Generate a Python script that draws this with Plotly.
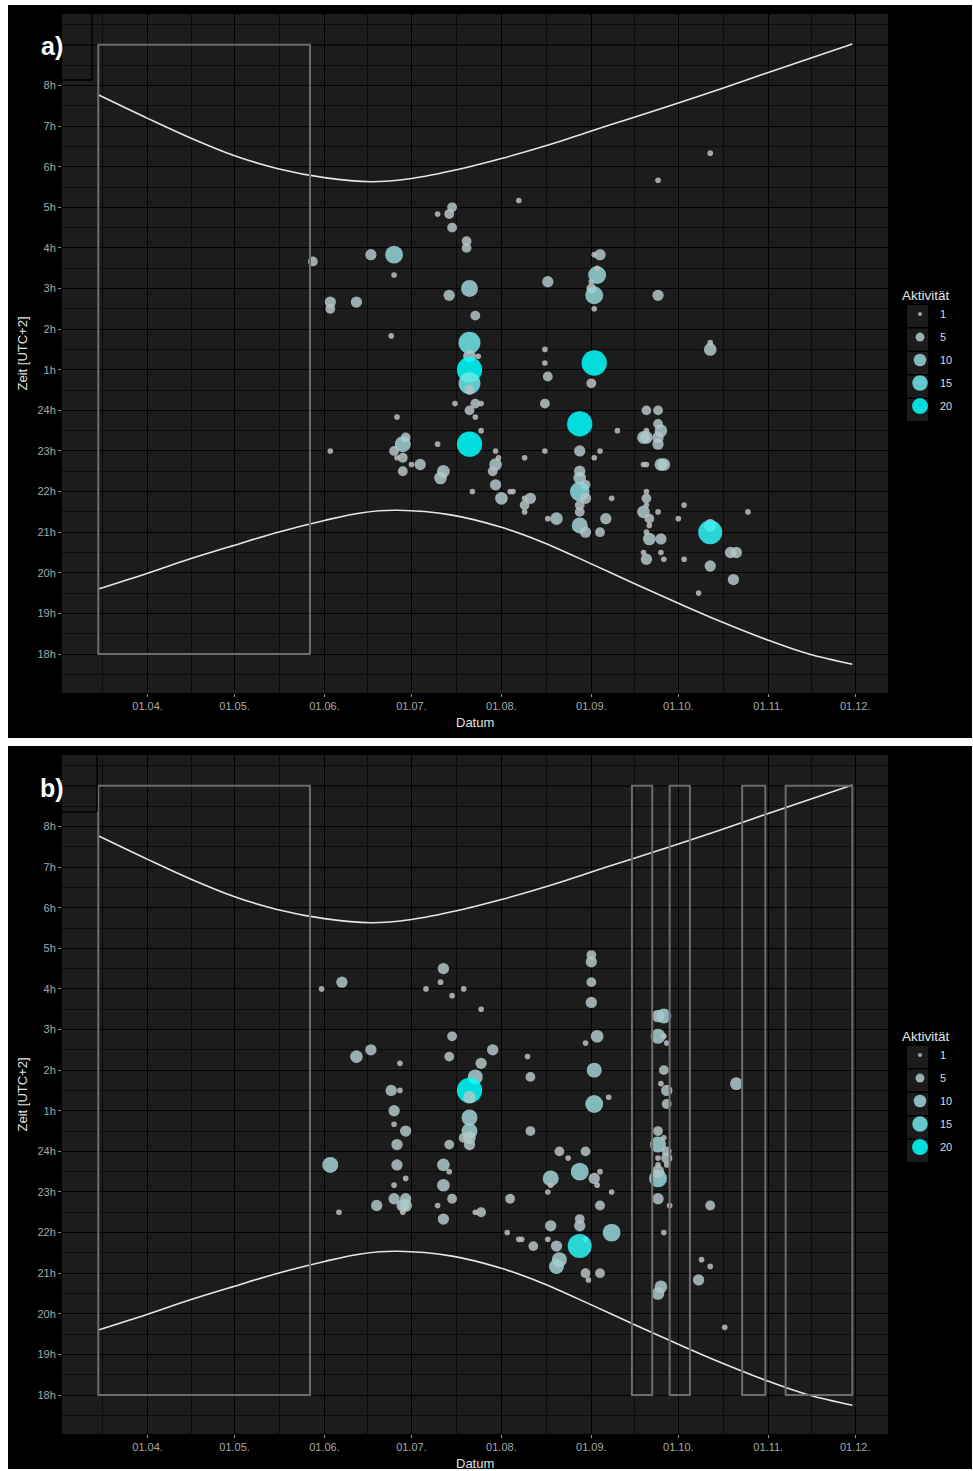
import plotly.graph_objects as go
import pandas as pd
from plotly.colors import sample_colorscale

W, H = 973, 1471
YEAR = 2015

# ---------------- data ----------------
# panel a) : date (MM-DD), time of day (HH:MM, UTC+2), activity
a_date = ["10-12","09-24","08-07","07-15","07-14","07-10","07-15","07-20","07-20","06-17",
          "06-25","09-04","09-02","05-28","06-25","07-21","07-14","06-12","06-03","06-03",
          "07-23","06-24","07-21","07-21","07-24","07-21","07-21","07-21","08-17","08-16",
          "08-16","08-17","08-16","09-03","09-03","09-01","09-01","09-02","09-02","09-02",
          "09-01","08-28","08-28","07-23","07-23","07-25","07-16","07-21","07-25","07-21",
          "07-30","07-31","07-30","07-29","08-09","08-16","06-26","06-29","06-28","06-25",
          "06-26","06-28","07-01","07-04","06-28","07-12","07-11","07-10","06-03","09-10",
          "09-04","09-02","09-20","09-24","09-24","09-20","09-25","09-19","09-20","09-24",
          "09-24","09-19","09-20","09-25","09-26","09-24","10-12","10-12","08-28","08-28",
          "08-30","08-28","08-30","08-28","08-28","08-28","08-30","08-17","08-20","09-06",
          "09-04","09-08","09-20","09-20","09-19","09-20","09-21","09-21","09-24","09-20",
          "09-21","09-25","09-19","09-25","09-20","09-26","10-01","10-03","10-12","10-12",
          "10-25","10-03","10-12","10-19","10-21","10-20","10-08","07-22","07-30","08-01",
          "08-04","08-05","08-09","08-11","08-09","08-09"]
a_time = ["6:20","5:40","5:10","5:00","4:50","4:50","4:30","4:10","4:00","3:50",
          "3:50","3:50","3:50","3:40","3:20","3:00","2:50","2:40","2:40","2:30",
          "2:20","1:50","1:40","1:20","1:20","1:00","0:40","0:30","3:10","1:30",
          "1:10","0:50","0:10","3:20","3:30","3:10","3:00","2:50","2:30","1:10",
          "0:40","23:40","23:00","0:10","23:50","0:10","0:10","0:00","23:30","23:10",
          "23:00","22:50","22:40","22:30","22:50","23:00","23:50","23:20","23:10","23:00",
          "22:50","22:50","22:40","22:40","22:30","22:30","22:20","23:10","23:00","23:30",
          "23:00","22:50","0:00","0:00","23:40","23:30","23:30","23:20","23:20","23:20",
          "23:10","22:40","22:40","22:40","22:40","2:50","1:40","1:30","22:30","22:20",
          "22:10","22:00","21:50","21:40","21:30","21:10","21:00","21:20","21:20","21:20",
          "21:00","21:50","22:00","21:50","21:30","21:40","21:20","21:10","21:30","21:00",
          "20:50","20:50","20:30","20:30","20:20","20:20","21:20","21:40","21:10","21:00",
          "21:30","20:20","20:10","20:30","20:30","19:50","19:30","22:00","22:10","21:50",
          "22:00","22:00","21:50","21:50","21:40","21:30"]
a_act = [1,1,1,3,3,1,3,3,3,4,
         10,4,1,3,1,9,4,4,4,3,
         3,1,15,5,1,20,15,3,4,1,
         1,3,3,10,1,1,3,10,1,20,
         3,20,4,3,1,1,1,3,1,20,
         1,1,5,3,1,1,1,3,8,3,
         1,3,1,4,3,5,5,1,1,1,
         1,1,3,3,3,1,5,5,5,4,
         4,1,1,5,5,4,1,5,4,5,
         3,12,4,3,3,8,4,1,5,4,
         3,1,1,3,5,1,3,1,1,1,
         5,4,1,1,4,1,1,1,5,18,
         1,1,4,4,4,4,1,1,4,5,
         1,1,1,4,3,1]

# panel b)
b_date = ["07-12","06-07","05-31","07-11","07-06","07-15","07-19","07-25","07-15","06-17",
          "06-12","06-27","07-14","07-29","07-25","07-23","07-21","07-21","06-24","06-27",
          "06-25","06-25","06-29","07-21","07-21","07-21","07-19","06-26","07-14","07-21",
          "06-03","06-26","07-12","07-14","06-29","06-25","07-12","06-19","06-25","06-29",
          "06-28","06-29","06-28","06-06","07-10","07-15","07-12","07-23","07-25","08-04",
          "08-03","08-07","09-01","09-01","09-01","09-01","09-03","08-30","08-10","08-11",
          "09-02","09-02","09-07","08-11","09-24","09-26","09-24","09-26","09-27","09-26",
          "09-25","09-27","09-27","10-21","09-24","09-26","09-24","08-21","08-30","08-24",
          "09-27","08-18","08-18","08-28","09-02","09-04","09-03","08-17","09-08","09-24",
          "09-24","09-24","09-24","09-27","09-24","09-28","09-04","10-12","08-28","08-28",
          "08-18","09-08","09-26","08-08","08-17","08-12","08-20","08-30","08-28","08-21",
          "08-20","08-30","09-04","08-31","09-25","09-24","10-09","10-12","10-08","10-17",
          "09-27"]
b_time = ["4:30","4:10","4:00","4:10","4:00","3:50","4:00","3:30","2:50","2:30",
          "2:20","2:10","2:20","2:30","2:10","1:50","1:30","1:20","1:30","1:30",
          "1:00","0:40","0:30","0:50","0:30","0:20","0:20","0:10","0:10","0:10",
          "23:40","23:40","23:40","23:30","23:20","23:10","23:10","22:40","22:50","22:50",
          "22:40","22:40","22:30","22:30","22:40","22:50","22:20","22:30","22:30","22:50",
          "22:00","21:50","4:50","4:40","4:10","3:40","2:50","2:40","2:20","1:50",
          "2:00","1:10","1:20","0:30","3:20","3:20","2:50","2:50","2:40","2:00",
          "1:40","1:30","1:10","1:40","0:30","0:20","0:10","0:00","0:00","23:50",
          "23:50","23:20","23:10","23:30","23:20","23:30","23:10","23:00","23:00","23:20",
          "23:30","23:40","23:50","23:40","22:50","22:40","22:40","22:40","22:20","22:10",
          "22:10","22:00","22:00","21:50","21:50","21:40","21:40","21:50","21:40","21:20",
          "21:10","21:00","21:00","20:50","20:40","20:30","21:20","21:10","20:50","19:40",
          "0:00"]
b_act = [4,4,1,1,1,1,1,1,3,4,
         5,1,3,4,4,7,20,5,4,1,
         4,1,4,8,8,5,3,4,3,4,
         8,4,5,1,1,1,5,4,4,4,
         5,5,1,1,1,3,4,1,3,3,
         1,1,3,4,3,4,5,1,1,3,
         7,10,1,3,5,7,7,1,1,3,
         1,4,3,5,3,1,8,3,3,1,
         4,8,1,10,4,1,1,1,1,10,
         5,1,1,1,4,1,3,3,3,4,
         4,10,1,1,1,3,4,1,18,7,
         7,3,3,1,5,5,1,1,4,1,
         3]

# sunrise / sunset (clock time, UTC+2)
sunrise_date = ["03-15","04-01","04-16","05-01","05-16","06-01","06-17","07-01","07-17",
                "08-01","08-18","09-01","09-15","10-01","10-15","11-01","11-15","11-30"]
sunrise = [7.77, 7.19, 6.70, 6.27, 5.95, 5.73, 5.63, 5.71, 5.93,
           6.20, 6.55, 6.88, 7.20, 7.57, 7.90, 8.32, 8.66, 9.02]
sunset_date = ["03-15","04-01","04-16","05-01","05-16","06-01","06-14","06-26","07-15",
               "08-01","08-15","09-01","09-15","10-01","10-15","11-01","11-15","11-30"]
sunset = [19.60, 19.99, 20.35, 20.68, 21.00, 21.29, 21.48, 21.54, 21.42,
          21.12, 20.76, 20.22, 19.76, 19.25, 18.82, 18.34, 18.00, 17.75]

# observation windows (grey rectangles)
rect_a_start, rect_a_end = ["03-15"], ["05-27"]
rect_b_start = ["03-15", "09-15", "09-28", "10-23", "11-07"]
rect_b_end = ["05-27", "09-22", "10-05", "10-31", "11-30"]
rect_t0, rect_t1 = "18:00", "9:00"

month_ticks = ["04-01","05-01","06-01","07-01","08-01","09-01","10-01","11-01","12-01"]
month_labels = ["01.04.","01.05.","01.06.","01.07.","01.08.","01.09.","01.10.","01.11.","01.12."]
hour_labels = ["18h","19h","20h","21h","22h","23h","24h","1h","2h","3h","4h","5h","6h","7h","8h"]
legend_vals = [1, 5, 10, 15, 20]

# ---------------- helpers ----------------
def d(md):
    return f"{YEAR}-{md}"

def clock(v):
    if isinstance(v, str):
        h, m = v.split(":")
        v = int(h) + int(m) / 60
    return v - 18 if v >= 12 else v + 6

CSCALE = [[0, "rgb(190,190,190)"], [0.25, "rgb(172,203,206)"], [0.5, "rgb(150,215,218)"],
          [0.75, "rgb(110,232,234)"], [1, "rgb(0,255,255)"]]
FONT = "Liberation Sans, Arial, sans-serif"
ALPHA = 0.85


def px_x(p):
    return p / W


def px_y(p):
    return 1 - p / H


fig = go.Figure()

panels = [
    ("x", "y", a_date, a_time, a_act, rect_a_start, rect_a_end),
    ("x2", "y2", b_date, b_time, b_act, rect_b_start, rect_b_end),
]

shapes = []
for xa, ya, dates, times, acts, rs, re_ in panels:
    fig.add_trace(go.Scatter(x=[d(s) for s in sunrise_date], y=[clock(v) for v in sunrise],
                             mode="lines", line=dict(color="#e6e6e6", width=1.6, shape="spline"),
                             xaxis=xa, yaxis=ya, showlegend=False, hoverinfo="skip"))
    fig.add_trace(go.Scatter(x=[d(s) for s in sunset_date], y=[clock(v) for v in sunset],
                             mode="lines", line=dict(color="#e6e6e6", width=1.6, shape="spline"),
                             xaxis=xa, yaxis=ya, showlegend=False, hoverinfo="skip"))
    fig.add_trace(go.Scatter(
        x=[d(s) for s in dates], y=[clock(t) for t in times], mode="markers",
        marker=dict(size=acts, sizemode="area", sizeref=1 / 16, color=acts,
                    colorscale=CSCALE, cmin=1, cmax=20, opacity=ALPHA,
                    line=dict(width=0)),
        xaxis=xa, yaxis=ya, showlegend=False))
    for s0, s1 in zip(rs, re_):
        shapes.append(dict(type="rect", xref=xa, yref=ya, x0=d(s0), x1=d(s1),
                           y0=clock(rect_t0), y1=clock(rect_t1),
                           line=dict(color="#6c6c6c", width=2), fillcolor="rgba(0,0,0,0)",
                           layer="above"))
    # major line at 9h (unlabelled)
    shapes.append(dict(type="line", xref=xa + " domain", yref=ya, x0=0, x1=1,
                       y0=clock("9:00"), y1=clock("9:00"),
                       line=dict(color="#000000", width=1.3), layer="below"))

# legends
leg_colors = sample_colorscale(CSCALE, [(v - 1) / 19 for v in legend_vals])
for li, lname in enumerate(["legend", "legend2"]):
    for v, c in zip(legend_vals, leg_colors):
        fig.add_trace(go.Scatter(x=[None], y=[None], mode="markers", name=str(v),
                                 marker=dict(size=(16 * v) ** 0.5, color=c, opacity=ALPHA,
                                             line=dict(width=0)),
                                 legend=lname, legendgroup=f"{lname}{v}", showlegend=True,
                                 xaxis="x" if li == 0 else "x2", yaxis="y" if li == 0 else "y2"))

# month minor (mid-month) positions
starts = pd.to_datetime([d("03-01")] + [d(m) for m in month_ticks])
minor_x = [(starts[i] + (starts[i + 1] - starts[i]) / 2).strftime("%Y-%m-%d %H:%M")
           for i in range(len(starts) - 1)]

xcommon = dict(type="date", range=[d("03-02 12:00"), d("12-12 07:00")],
               tickmode="array", tickvals=[d(m) for m in month_ticks], ticktext=month_labels,
               showgrid=True, gridcolor="#000000", gridwidth=1.3,
               minor=dict(tickmode="array", tickvals=minor_x, showgrid=True,
                          gridcolor="#0b0b0b", gridwidth=0.8, ticks=""),
               ticks="outside", ticklen=3, tickwidth=1, tickcolor="#8c8c8c",
               tickfont=dict(size=11, color="#a9a9a9", family=FONT),
               zeroline=False, showline=False, automargin=False, fixedrange=True)
ycommon = dict(range=[-0.96, 15.76], tickmode="array", tickvals=list(range(15)),
               ticktext=hour_labels, showgrid=True, gridcolor="#000000", gridwidth=1.3,
               minor=dict(tickmode="linear", tick0=0, dtick=0.5, showgrid=True,
                          gridcolor="#0b0b0b", gridwidth=0.8, ticks=""),
               ticks="outside", ticklen=3, tickwidth=1, tickcolor="#8c8c8c",
               tickfont=dict(size=11, color="#a9a9a9", family=FONT),
               zeroline=False, showline=False, automargin=False, fixedrange=True)

xd = [px_x(62), px_x(888)]
fig.update_layout(
    xaxis=dict(domain=xd, anchor="y", **xcommon),
    yaxis=dict(domain=[px_y(693), px_y(14)], anchor="x", **ycommon),
    xaxis2=dict(domain=xd, anchor="y2", **xcommon),
    yaxis2=dict(domain=[px_y(1434), px_y(755)], anchor="x2", **ycommon),
)

# white gaps around the two black panels
for (x0, y0, x1, y1) in [(0, 0, 8, H), (0, 0, W, 5), (0, 738, W, 746), (0, 1469, W, H), (972, 0, W, H)]:
    shapes.append(dict(type="rect", xref="paper", yref="paper", x0=px_x(x0), x1=px_x(x1),
                       y0=px_y(y1), y1=px_y(y0), fillcolor="white", line=dict(width=0),
                       layer="below"))
# legend key backgrounds
for off in (0, 741):
    for k in range(len(legend_vals)):
        cy = 316 + 23.5 * k + off
        shapes.append(dict(type="rect", xref="paper", yref="paper", x0=px_x(907), x1=px_x(928),
                           y0=px_y(cy + 11), y1=px_y(cy - 11), fillcolor="#1b1b1b",
                           line=dict(width=0), layer="below"))
# black frame of the panel tags
for (bx, by, top) in [(92, 80, 14), (97, 812, 755)]:
    shapes.append(dict(type="line", xref="paper", yref="paper", x0=px_x(62), x1=px_x(bx),
                       y0=px_y(by), y1=px_y(by), line=dict(color="black", width=1.5)))
    shapes.append(dict(type="line", xref="paper", yref="paper", x0=px_x(bx), x1=px_x(bx),
                       y0=px_y(top), y1=px_y(by), line=dict(color="black", width=1.5)))

annotations = []
for tag, ty, off in [("a)", 46, 0), ("b)", 788, 741)]:
    annotations.append(dict(text=f"<b>{tag}</b>", xref="paper", yref="paper", x=px_x(52),
                            y=px_y(ty), showarrow=False, xanchor="center", yanchor="middle",
                            font=dict(size=25, color="white", family=FONT)))
    annotations.append(dict(text="Zeit [UTC+2]", xref="paper", yref="paper", x=px_x(22),
                            y=px_y(353.5 + off), textangle=-90, showarrow=False,
                            xanchor="center", yanchor="middle",
                            font=dict(size=13, color="#e0e0e0", family=FONT)))
    annotations.append(dict(text="Datum", xref="paper", yref="paper", x=px_x(475),
                            y=px_y(722 + off), showarrow=False, xanchor="center",
                            yanchor="middle", font=dict(size=13, color="#e0e0e0", family=FONT)))

legstyle = dict(xanchor="left", yanchor="top", bgcolor="rgba(0,0,0,0)", borderwidth=0,
                itemsizing="trace", tracegroupgap=4,
                font=dict(size=11, color="#dcdcdc", family=FONT),
                title=dict(text="Aktivität", font=dict(size=13.5, color="#e6e6e6", family=FONT)))

fig.update_layout(
    width=W, height=H, margin=dict(l=0, r=0, t=0, b=0),
    paper_bgcolor="black", plot_bgcolor="#1c1c1c",
    font=dict(family=FONT),
    shapes=shapes, annotations=annotations,
    legend=dict(x=px_x(900), y=px_y(282), **legstyle),
    legend2=dict(x=px_x(900), y=px_y(282 + 741), **legstyle),
)

fig.write_html("out.html", config={"displayModeBar": False},
               post_script="document.body.style.margin='0';")
